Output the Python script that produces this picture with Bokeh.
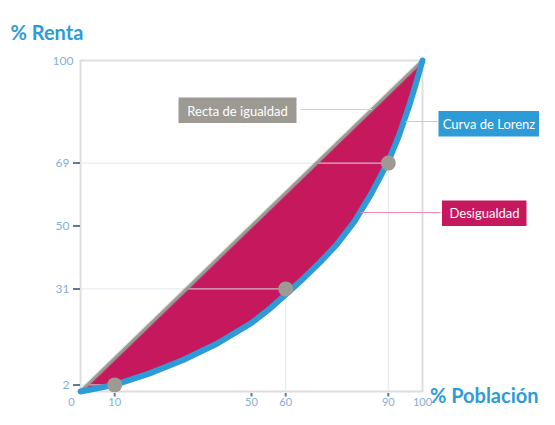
from bokeh.plotting import figure
from bokeh.models import Range1d
from bokeh.embed import file_html
from bokeh.resources import INLINE
from bokeh.core.properties import value

# ---------------- data ----------------
poblacion = [0, 10, 20, 30, 40, 50, 55, 60, 65, 70, 75, 80, 85, 90, 93, 96, 98, 100]
renta = [0, 2.0, 5.4, 9.5, 14.5, 20.7, 24.7, 29.3, 34.0, 39.0, 44.5, 51.2, 59.7, 69.5, 77.0, 86.0, 92.8, 100]
igualdad = [0, 100]
puntos_x = [10, 60, 90]
puntos_y = [2, 31, 69]
x_tick_values = [10, 50, 60, 90]
x_label_values = [10, 50, 60, 90, 100]
x_tick_labels = ["10", "50", "60", "90", "100"]
y_tick_values = [2, 31, 50, 69]
y_label_values = [2, 31, 50, 69, 100]
y_tick_labels = ["2", "31", "50", "69", "100"]
anotaciones = ["Recta de igualdad", "Curva de Lorenz", "Desigualdad"]
titulo_y = "% Renta"
titulo_x = "% Población"
origen = "0"

# ---------------- styles ----------------
BLUE = "#2d9bd8"
CRIMSON = "#c6185d"
GREY = "#9d9a94"
TICK_TEXT = "#86aedb"
TICK_MARK = "#61789c"
FONT = value("Lato")

W, H = 539, 409
X0, SX = 80.0, 3.42   # canvas px of x=0, px per unit
Y0, SY = 391.0, 3.31  # canvas px of y=0 (from top), px per unit


def dx(px):
    return (px - X0) / SX


def dy(py):
    return (Y0 - py) / SY


p = figure(width=W, height=H, output_backend="svg", toolbar_location=None,
           x_range=Range1d(-X0 / SX, (W - X0) / SX),
           y_range=Range1d(-(H - Y0) / SY, Y0 / SY),
           x_axis_location=None, y_axis_location=None, min_border=0, tools="")
p.outline_line_color = None
p.grid.visible = False
p.background_fill_color = "white"

# frame
p.quad(left=[igualdad[0]], right=[igualdad[1]], bottom=[igualdad[0]], top=[igualdad[1]],
       fill_color=None, line_color="#dedede", line_width=2)

# inequality area between diagonal and Lorenz curve
p.varea(x=poblacion, y1=renta, y2=poblacion, fill_color=CRIMSON)

# guide lines to the points
zeros = [0] * len(puntos_x)
p.segment(x0=zeros, y0=puntos_y, x1=puntos_x, y1=puntos_y,
          line_color="#dfe6ee", line_alpha=0.75, line_width=1.2)
p.segment(x0=puntos_x, y0=zeros, x1=puntos_x, y1=puntos_y,
          line_color="#dfe6ee", line_alpha=0.75, line_width=1.2)

# equality line
p.line(igualdad, igualdad, line_color=GREY, line_width=5, line_alpha=0.25)
p.line(igualdad, igualdad, line_color=GREY, line_width=3)

# Lorenz curve
p.line(poblacion, renta, line_color=BLUE, line_width=6, line_cap="round", line_join="round")

# points
p.scatter(puntos_x, puntos_y, size=15, fill_color=GREY, line_color=None)

# y ticks and labels
p.segment(x0=[dx(72.5)] * len(y_tick_values), y0=y_tick_values,
          x1=[dx(79.5)] * len(y_tick_values), y1=y_tick_values,
          line_color=TICK_MARK, line_width=2)
p.text(x=[dx(69)] * 4 + [dx(73)], y=y_label_values, text=y_tick_labels,
       text_font=FONT, text_font_size="12px", text_color=TICK_TEXT,
       text_align="right", text_baseline="middle")

# x ticks and labels
p.segment(x0=x_tick_values, y0=[dy(392.5)] * len(x_tick_values),
          x1=x_tick_values, y1=[dy(396)] * len(x_tick_values),
          line_color=TICK_MARK, line_width=2)
p.text(x=x_label_values, y=[dy(405)] * len(x_label_values), text=x_tick_labels,
       text_font=FONT, text_font_size="11px", text_color=TICK_TEXT,
       text_align="center", text_baseline="bottom")
p.text(x=[dx(71)], y=[dy(405)], text=[origen],
       text_font=FONT, text_font_size="11px", text_color=TICK_TEXT,
       text_align="center", text_baseline="bottom")

# titles
p.text(x=[dx(10)], y=[dy(31)], text=[titulo_y], text_font=FONT, text_font_style="bold",
       text_font_size="20px", text_color=BLUE, text_align="left", text_baseline="alphabetic")
p.text(x=[dx(538)], y=[dy(394)], text=[titulo_x], text_font=FONT, text_font_style="bold",
       text_font_size="20px", text_color=BLUE, text_align="right", text_baseline="alphabetic")

# annotation leader lines
y_recta = dy(109)
p.segment(x0=[dx(300)], y0=[y_recta], x1=[y_recta], y1=[y_recta],
          line_color="#dccfd4", line_width=1.2)
p.segment(x0=[dx(405)], y0=[dy(121)], x1=[dx(437)], y1=[dy(121)],
          line_color="#a8d4ef", line_width=1.2)
p.segment(x0=[dx(360)], y0=[dy(212)], x1=[dx(440)], y1=[dy(212)],
          line_color="#ee8ab2", line_width=1.2)

# annotation boxes
p.quad(left=[dx(178), dx(438), dx(441.5)],
       right=[dx(296), dx(539), dx(526)],
       top=[dy(97), dy(110.5), dy(200)],
       bottom=[dy(122.5), dy(136), dy(225.5)],
       fill_color=[GREY, BLUE, CRIMSON], line_color=None)
p.text(x=[dx(237), dx(488.5), dx(484)], y=[dy(110), dy(123.3), dy(212.8)], text=anotaciones,
       text_font=FONT, text_font_size="13px", text_color="white",
       text_align="center", text_baseline="middle")

open("out.html", "w").write(file_html(p, INLINE))
